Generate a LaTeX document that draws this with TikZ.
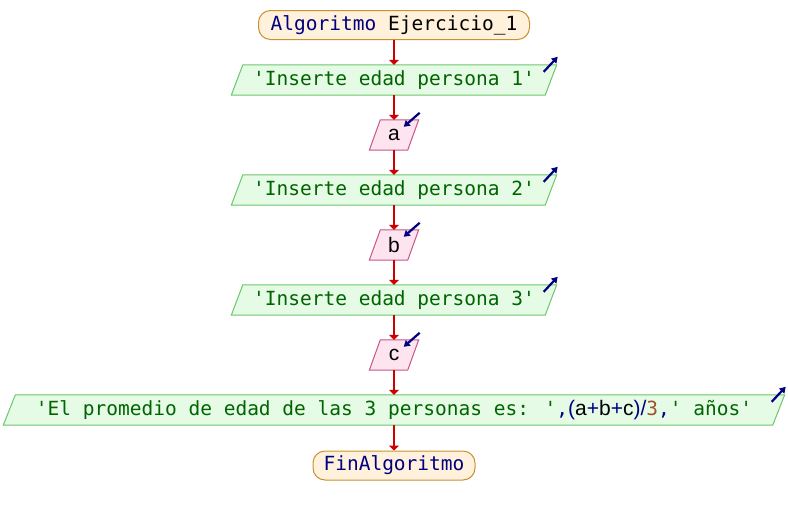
\documentclass[tikz,border=0pt]{standalone}
\usepackage{fontspec}
\usetikzlibrary{calc,backgrounds,arrows.meta}
\newfontfamily\codefont{DejaVu Sans Mono}
\newfontfamily\varfont{Liberation Sans}

\definecolor{termfill}{HTML}{FFF1DC}
\definecolor{termdraw}{HTML}{C8922F}
\definecolor{outfill}{HTML}{E6FBE6}
\definecolor{outdraw}{HTML}{6CC76C}
\definecolor{readfill}{HTML}{FDE4EF}
\definecolor{readdraw}{HTML}{C8558A}
\definecolor{flowred}{HTML}{CC0000}
\definecolor{kwnavy}{HTML}{000080}
\definecolor{strgreen}{HTML}{006400}
\definecolor{numbrown}{HTML}{A0522D}

\newcommand{\str}[1]{{\color{strgreen}\codefont #1}}
\newcommand{\kw}[1]{{\color{kwnavy}\codefont #1}}
\newcommand{\ident}[1]{{\color{black}\varfont\fontsize{21}{22}\selectfont #1}}
\newcommand{\op}[1]{{\color{kwnavy}\varfont\fontsize{21}{22}\selectfont #1}}

\begin{document}
\begin{tikzpicture}[x=1pt,y=-1pt,
  every node/.style={font=\fontsize{19.5}{22}\selectfont, inner sep=0pt},
  terminal/.style={draw=termdraw, fill=termfill, line width=1pt,
    rounded corners=12pt, minimum height=29pt},
  outbody/.style={minimum height=30pt},
  readbody/.style={minimum height=30pt, minimum width=27pt},
  flow/.style={draw=flowred, line width=2pt,
    -{Triangle[width=10pt,length=5pt]}},
  iomark/.style={draw=kwnavy, line width=2.2pt,
    -{Triangle[width=7pt,length=6pt]}}
]
\useasboundingbox (0,0) rectangle (788,515);

% start / end terminals
\node[terminal, minimum width=271pt] (start) at (394,25)
  {\kw{Algoritmo}{\codefont\ Ejercicio\_1}};
\node[terminal, minimum width=162pt] (stop) at (394,465.5)
  {\kw{FinAlgoritmo}};

% output and input bodies (outlines drawn on the background layer)
\node[outbody, minimum width=302pt] (out1) at (394,80)
  {\str{'Inserte edad persona 1'}};
\node[readbody] (rda) at (394,135) {\ident{a}};
\node[outbody, minimum width=302pt] (out2) at (394,190)
  {\str{'Inserte edad persona 2'}};
\node[readbody] (rdb) at (394,245) {\ident{b}};
\node[outbody, minimum width=302pt] (out3) at (394,300)
  {\str{'Inserte edad persona 3'}};
\node[readbody] (rdc) at (394,355) {\ident{c}};
\node[outbody, minimum width=757pt] (out4) at (394,410)
  {\str{'El promedio de edad de las 3 personas es: '}\kw{,}%
   \op{(}\ident{a}\op{+}\ident{b}\op{+}\ident{c}\op{)/}%
   {\color{numbrown}\codefont 3}\kw{,}\str{' años'}};

\begin{pgfonlayer}{background}
  \foreach \n/\s in {out1/11.5, out2/11.5, out3/11.5, out4/12} {
    \draw[draw=outdraw, fill=outfill, line width=1pt]
      (\n.north west) -- ($(\n.north east)+(\s,0)$) --
      (\n.south east) -- ($(\n.south west)+(-\s,0)$) -- cycle;
  }
  \foreach \n in {rda, rdb, rdc} {
    \draw[draw=readdraw, fill=readfill, line width=1pt]
      (\n.north west) -- ($(\n.north east)+(11,0)$) --
      (\n.south east) -- ($(\n.south west)+(-11,0)$) -- cycle;
  }
\end{pgfonlayer}

% output markers (arrow leaving the upper right corner)
\foreach \n/\s in {out1/11.5, out2/11.5, out3/11.5, out4/12} {
  \draw[iomark] ($(\n.north east)+(\s-13,7)$) -- ($(\n.north east)+(\s+1,-8)$);
}
% input markers (arrow entering the upper right corner)
\foreach \n in {rda, rdb, rdc} {
  \draw[iomark] ($(\n.north east)+(12,-7)$) -- ($(\n.north east)+(-4,7)$);
}

% flow
\draw[flow] (start.south) -- (out1.north);
\draw[flow] (out1.south) -- (rda.north);
\draw[flow] (rda.south) -- (out2.north);
\draw[flow] (out2.south) -- (rdb.north);
\draw[flow] (rdb.south) -- (out3.north);
\draw[flow] (out3.south) -- (rdc.north);
\draw[flow] (rdc.south) -- (out4.north);
\draw[flow] (out4.south) -- (stop.north);
\end{tikzpicture}
\end{document}
